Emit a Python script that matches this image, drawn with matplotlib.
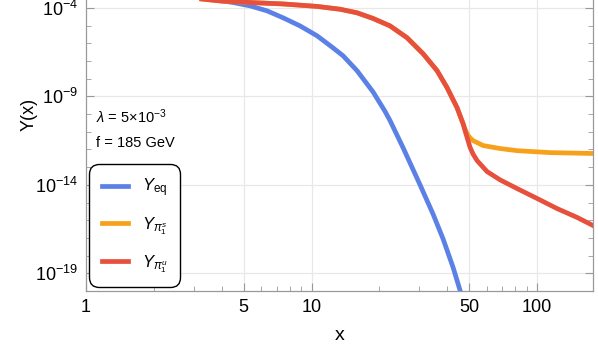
import numpy as np
import matplotlib
matplotlib.use("Agg")
import matplotlib.pyplot as plt
from matplotlib.ticker import FixedLocator, NullFormatter

plt.rcParams['font.family'] = ['Liberation Sans', 'DejaVu Sans']
plt.rcParams['mathtext.fontset'] = 'custom'
plt.rcParams['mathtext.rm'] = 'Liberation Sans'
plt.rcParams['mathtext.it'] = 'Liberation Sans:italic'

# values (log10 of Y)
x_eq = [3.20, 3.73, 4.49, 5.34, 6.35, 7.47, 8.89, 10.58, 12.45, 13.80, 15.91, 18.74,
        21.18, 22.29, 25.46, 30.28, 34.58, 38.30, 42.42, 45.55, 46.97]
logy_eq = [-3.38, -3.55, -3.70, -3.89, -4.17, -4.56, -5.02, -5.58, -6.26, -6.71, -7.55, -8.75,
           -9.85, -10.37, -11.90, -14.00, -15.65, -17.05, -18.66, -19.96, -20.53]

x_u = [3.20, 3.93, 5.34, 7.47, 10.58, 13.38, 15.91, 18.74, 22.29, 26.52, 31.22, 36.03,
       39.90, 44.18, 46.97, 47.94, 50.45, 52.02, 54.20, 60.01, 68.55, 81.52, 100, 122.6,
       150.4, 177.1]
logy_u = [-3.49, -3.61, -3.70, -3.78, -3.92, -4.08, -4.28, -4.60, -5.02, -5.69, -6.59, -7.55,
          -8.51, -9.64, -10.54, -10.94, -11.88, -12.26, -12.63, -13.25, -13.72, -14.21, -14.77,
          -15.34, -15.84, -16.30]

x_s = [3.20, 3.93, 5.34, 7.47, 10.58, 13.38, 15.91, 18.74, 22.29, 26.52, 31.22, 36.03,
       39.90, 44.18, 46.97, 48.2, 49.43, 50.6, 52.02, 57.62, 68.55, 81.52, 114.2, 177.1]
logy_s = [-3.49, -3.61, -3.70, -3.78, -3.92, -4.08, -4.28, -4.60, -5.02, -5.69, -6.59, -7.55,
          -8.51, -9.64, -10.54, -10.92, -11.20, -11.36, -11.50, -11.78, -11.95, -12.07, -12.18,
          -12.23]

xticks = [1, 5, 10, 50, 100]
yticks = [1e-4, 1e-9, 1e-14, 1e-19]
ytick_labels = [r'$10^{-4}$', r'$10^{-9}$', r'$10^{-14}$', r'$10^{-19}$']

c_eq = '#5b81e6'
c_s = '#f7a11a'
c_u = '#e6503c'

fig = plt.figure(figsize=(5.98, 3.51), dpi=100)
ax = fig.add_axes([0.1438, 0.1709, 0.8478, 1.0085])

ax.plot(x_eq, 10 ** np.array(logy_eq), color=c_eq, lw=3.4, label=r'$Y_{\mathrm{eq}}$',
        solid_joinstyle='round')
ax.plot(x_s, 10 ** np.array(logy_s), color=c_s, lw=3.4, label=r'$Y_{\pi_1^s}$',
        solid_joinstyle='round')
ax.plot(x_u, 10 ** np.array(logy_u), color=c_u, lw=3.4, label=r'$Y_{\pi_1^u}$',
        solid_joinstyle='round')

ax.set_xscale('log')
ax.set_yscale('log')
ax.set_xlim(1, 177)
ax.set_ylim(1e-20, 1)

ax.xaxis.set_major_locator(FixedLocator(xticks))
ax.set_xticklabels([str(t) for t in xticks])
minor_x = [m * 10 ** d for d in range(0, 3) for m in range(2, 10)
           if m * 10 ** d <= 177 and m * 10 ** d not in xticks]
ax.xaxis.set_minor_locator(FixedLocator(minor_x))
ax.xaxis.set_minor_formatter(NullFormatter())

ax.yaxis.set_major_locator(FixedLocator(yticks))
ax.set_yticklabels(ytick_labels)
ax.yaxis.set_minor_locator(FixedLocator([10.0 ** -k for k in range(0, 21) if k not in (4, 9, 14, 19)]))
ax.yaxis.set_minor_formatter(NullFormatter())

ax.tick_params(which='both', direction='in', color='#999999', top=True, right=True,
               labelsize=13, pad=6)
ax.tick_params(which='major', length=6, width=0.8)
ax.tick_params(which='minor', length=3.5, width=0.6)
for s in ax.spines.values():
    s.set_color('#999999')
    s.set_linewidth(0.9)

for t in xticks[1:]:
    ax.axvline(t, color='#e8e8e8', lw=0.9, zorder=0)
for t in yticks:
    ax.axhline(t, color='#e8e8e8', lw=0.9, zorder=0)

ax.set_xlabel('x', fontsize=14, labelpad=8)
ax.set_ylabel('Y(x)', fontsize=13, labelpad=-2)

ax.text(0.02, 0.4915, r'$\lambda$ = 5$\times$10$^{-3}$', transform=ax.transAxes,
        fontsize=10.5, va='center', ha='left')
ax.text(0.02, 0.418, 'f = 185 GeV', transform=ax.transAxes,
        fontsize=10.5, va='center', ha='left')

leg = ax.legend(loc='lower left', bbox_to_anchor=(0.006, 0.011), fontsize=12,
                frameon=True, fancybox=True, edgecolor='black', framealpha=1,
                handlelength=1.6, handletextpad=0.8, labelspacing=0.95,
                borderpad=0.75, borderaxespad=0)
leg.get_frame().set_linewidth(1.0)
leg.get_frame().set_boxstyle('round', pad=0.0, rounding_size=0.6)

fig.savefig('out.png', dpi=100)
